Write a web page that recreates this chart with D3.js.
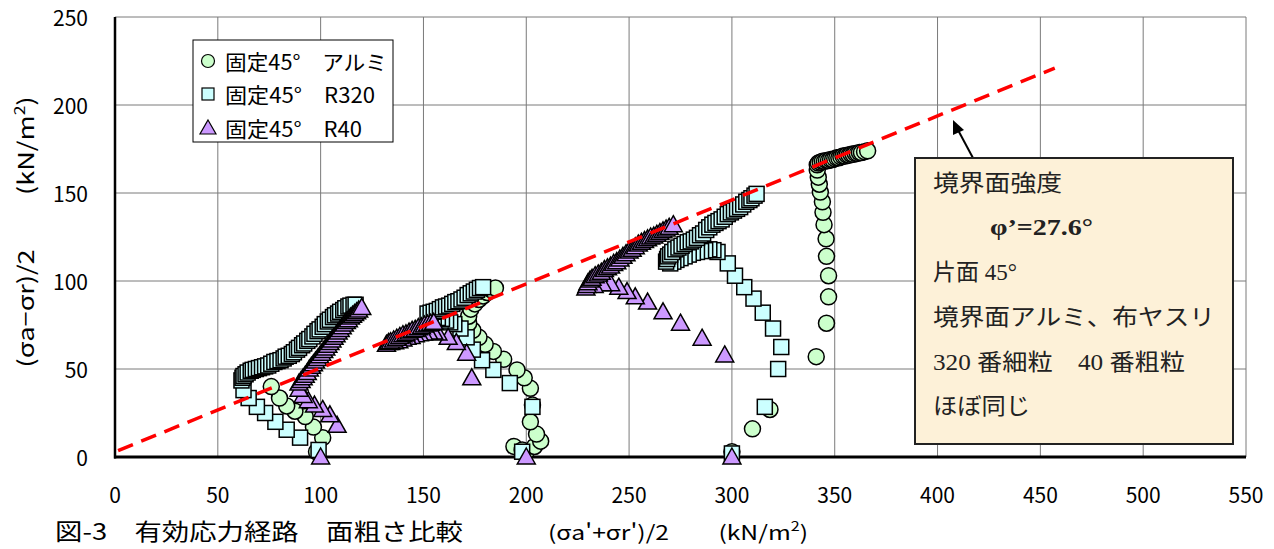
<!DOCTYPE html>
<html lang="ja">
<head>
<meta charset="utf-8">
<script src="https://d3js.org/d3.v7.min.js"></script>
<style>
  body { margin: 0; background: #fff; }
  text { font-family: "Noto Sans CJK JP", sans-serif; fill: #000; }
  .serif { font-family: "Liberation Serif", "Noto Sans CJK JP", serif; }
</style>
</head>
<body>
<svg id="main" width="1274" height="549"></svg>
<script>
// ---- data: [p', q] in kN/m2 ----
const alumi = [
  [98,3],[101,11],[96.5,17],[92.5,23],[87.5,26],[83.5,29],[80,33.5],[76,40],
  [200,3],[194,6],[198,4],[204,6],[207,9],[205,13],[202,20],[203,29.5],[202,39],[199,45],[195.5,49.5],
  [189,55.5],[184,60],[180,64],[177,68],[174,72],[172,76],[172,80],[173,84],[175,87],[177,89.5],
  [179,91.5],[181,93.5],[183,95],[185,96],
  [300,3],[310,16],[318.5,27],[341,57],[346,76],[347,91],[347,103],[346,114],[345.8,124],[344.8,132],
  [344.3,139],[344,145],[343,150.5],[342.5,155],[342,159],[341.5,163],[341.5,166],[342,167],[343,167.5],
  [344,168],[345,168],[346,168.5],[347,168.5],[348,169],[349,169],[350,169.5],[351,170],[352,170],
  [353,170.5],[354,171],[355,171],[356,171.5],[357,171.5],[358,172],[359,172],[360,172.5],[361,172.5],
  [362,173],[363,173],[364.5,173.5],[366,174]
];
const r320 = [
  [99,4],[90,11],[83.5,15.5],[78,20],[73,25],[69,28.5],[65,33.5],[62.5,38],[61.5,43.5],[62,45],[62.5,46],
  [63.5,47],[64.5,48],[66,49],[67,49.5],[68.5,50],[70,50.5],[71.5,51],[73,51.5],[74.5,52],[76,53],[77.5,54],
  [79,54.5],[80.5,55],[82,56],[83,57],[84.5,57.5],[86,58.5],[87,59.5],[88.5,61],[89.5,62],[91,63.5],
  [92,64.5],[93.5,66],[94.5,67],[96,68.5],[97,70],[98.5,71.5],[99.5,72.5],[101,74],[102,75.5],[103.5,77],
  [104.5,78],[106,79.5],[107,80.5],[108.5,81.5],[109.5,82.5],[111,83.5],[112,84.5],[113.5,85.5],
  [114.5,86],[116,86.5],[117,86.5],
  [198,3],[203,28.5],[192,42],[184,49.5],[178.5,55],[174,61],[171,68],[168,73],[165,75.5],[163,76.5],[161,77.5],
  [159,78.5],[157,79],[155,79.5],[153,80],[152,81.5],[153.5,82],[155,82.5],[156.5,83],[158,84],[159.5,85],
  [161,85.5],[162.5,86],[164,87],[165.5,88],[167,88.5],[168.5,89.5],[170,90.5],[171.5,92],[173,93],
  [174.5,94],[176,95],[177.5,96],[179,96.5],
  [300,2],[316,28.5],[322.5,50],[324,62.5],[320,73],[315,82],[310.5,90],[306,96.5],[301.5,103],
  [298,110],[293,116.5],[291,117.5],[289,118],[287,117.5],[285,117],[283,116.5],[281,116],[279,115],
  [277,114],[275,113],[273,112],[271.5,111],[270,110],[268,111],[268.5,112.5],[269,114],[270,115],
  [271,116.5],[272.5,118],[274,119],[275.5,120],[277,121],[278.5,122],[280,122.5],[281.5,123.5],
  [283,124.5],[284.5,126],[286,127],[287.5,129],[289,130.5],[290.5,132],[292,133],[293.5,134],[295,135],
  [296.5,136.5],[298,138],[299.5,139],[301,140],[302.5,141],[304,142],[305.5,143.5],[307,145],
  [308.5,146],[309.5,147],[311,148.5],[312,149.5]
];
const r40 = [
  [100,0],[108,18],[104.5,24],[101,27],[97,29.5],[94,32],[91.5,35],[89.5,38.5],[89.5,42],[90.5,43.5],
  [91.5,45],[92.5,46.5],[93.5,48],[94.5,50],[95.5,51.5],[96.5,53],[97.5,54.5],[98.5,56],[99.5,57.5],
  [100.5,59],[101.5,60.5],[102.5,62],[103.5,63.5],[104.5,65],[105.5,66.5],[106.5,68],[107.5,69.5],
  [108.5,71],[109.5,72.5],[110.5,74],[111.5,75.5],[112.5,77],[113.5,78],[114.5,79.5],[115.5,80.5],
  [116.5,81.5],[117.5,82.5],[118.5,83.5],[120,85],
  [200,0],[173.5,45],[171,59],[166,65],[162,68],[157,70.5],[155,71],[152.5,71],[150,70.5],[148,70],
  [146,69.5],[144,68.5],[142,68],[140,67],[138,66],[136,65.5],[134,65],[132,64],[133,65],[134,65.5],
  [135.5,66.5],[137,67.5],[138.5,68.5],[140,69.5],[141.5,70],[143,71],[144.5,72],[146,72.5],[147.5,73.5],
  [149,74],[150.5,75],[152,75.5],[153.5,76],[155,76.5],
  [300,0],[296.5,58],[285.5,67.5],[275,76],[266.5,82.5],[259,88],[253,91],[249,94],[245,96.5],
  [241,98.5],[237,98.5],[233,97.5],[229,96],[229.5,97.5],[230,99],[231,100.5],[232,101.5],[233.5,103],
  [235,104],[236.5,105],[238,106.5],[239.5,107.5],[241,108.5],[242.5,110],[244,111],[245.5,112.5],
  [247,114],[248.5,115.5],[250,117],[251.5,118],[253,119.5],[254.5,121],[256,122],[257.5,123],
  [259,124],[260.5,125],[262,125.5],[263.5,126.5],[265,127.5],[266.5,128.5],[268,129.5],[269.5,130.5],
  [271.5,132]
];
const failX = [1.5, 457];
const failY = [3.6, 221];
const xTicks = [0,50,100,150,200,250,300,350,400,450,500,550];
const yTicks = [0,50,100,150,200,250];
const legendLabels = ["固定45°　アルミ", "固定45°　R320", "固定45°　R40"];
const noteLines = ["境界面強度", "φ’=27.6°", "片面 45°", "境界面アルミ、布ヤスリ", "320 番細粒　40 番粗粒", "ほぼ同じ"];

const svg = d3.select("#main");
const x = d3.scaleLinear().domain([0, 550]).range([115, 1246]);
const y = d3.scaleLinear().domain([0, 250]).range([457, 17]);

// grid + frame
svg.append("g").selectAll("line").data(xTicks.slice(1)).join("line")
  .attr("x1", d => x(d)).attr("x2", d => x(d)).attr("y1", y(0)).attr("y2", y(250))
  .attr("stroke", "#7a7a7a").attr("stroke-width", 1);
svg.append("g").selectAll("line").data(yTicks.slice(1)).join("line")
  .attr("x1", x(0)).attr("x2", x(550)).attr("y1", d => y(d)).attr("y2", d => y(d))
  .attr("stroke", "#7a7a7a").attr("stroke-width", 1);
svg.append("line").attr("x1", x(0)).attr("x2", x(0)).attr("y1", y(0) + 1.5).attr("y2", y(250))
  .attr("stroke", "#000").attr("stroke-width", 2.5);
svg.append("line").attr("x1", x(0) - 1).attr("x2", x(550)).attr("y1", y(0)).attr("y2", y(0))
  .attr("stroke", "#000").attr("stroke-width", 3);

// tick labels
svg.append("g").selectAll("text").data(xTicks).join("text")
  .attr("x", d => x(d)).attr("y", 494).attr("text-anchor", "middle")
  .attr("dominant-baseline", "central").attr("font-size", 21).text(d => d);
svg.append("g").selectAll("text").data(yTicks).join("text")
  .attr("x", 88).attr("y", d => y(d)).attr("text-anchor", "end")
  .attr("dominant-baseline", "central").attr("font-size", 21).text(d => d);

// markers
const sym = {
  circle: (g, d) => g.append("circle").attr("cx", x(d[0])).attr("cy", y(d[1])).attr("r", 8)
    .attr("fill", "#ccffcc"),
  square: (g, d) => g.append("rect").attr("x", x(d[0]) - 7.5).attr("y", y(d[1]) - 7.5)
    .attr("width", 15).attr("height", 15).attr("fill", "#ccffff"),
  triangle: (g, d) => g.append("path")
    .attr("d", `M${x(d[0])},${y(d[1]) - 9}L${x(d[0]) + 9},${y(d[1]) + 7}L${x(d[0]) - 9},${y(d[1]) + 7}Z`)
    .attr("fill", "#cc99ff")
};
function drawSeries(data, kind) {
  const g = svg.append("g").attr("stroke", "#000").attr("stroke-width", 1.5);
  data.forEach(d => sym[kind](g, d));
}
drawSeries(alumi, "circle");
drawSeries(r320, "square");
drawSeries(r40, "triangle");

// failure line
svg.append("line").attr("x1", x(failX[0])).attr("y1", y(failY[0]))
  .attr("x2", x(failX[1])).attr("y2", y(failY[1]))
  .attr("stroke", "#ff0000").attr("stroke-width", 3.5).attr("stroke-dasharray", "16,9");

// legend
const lg = svg.append("g");
lg.append("rect").attr("x", 193).attr("y", 40).attr("width", 200).attr("height", 102)
  .attr("fill", "#fff").attr("stroke", "#000").attr("stroke-width", 1);
const legY = [61, 94, 128];
const legKinds = ["circle", "square", "triangle"];
const legLen = [162, 150, 137];
legKinds.forEach((k, i) => {
  const g = lg.append("g").attr("stroke", "#000").attr("stroke-width", 1.2);
  if (k === "circle") g.append("circle").attr("cx", 208).attr("cy", legY[i]).attr("r", 6.5).attr("fill", "#ccffcc");
  if (k === "square") g.append("rect").attr("x", 202).attr("y", legY[i] - 6).attr("width", 12).attr("height", 12).attr("fill", "#ccffff");
  if (k === "triangle") g.append("path").attr("d", `M208,${legY[i] - 8}L216,${legY[i] + 6}L200,${legY[i] + 6}Z`).attr("fill", "#cc99ff");
  lg.append("text").attr("x", 225).attr("y", legY[i]).attr("dominant-baseline", "central")
    .attr("font-size", 21).attr("textLength", legLen[i]).attr("lengthAdjust", "spacingAndGlyphs")
    .text(legendLabels[i]);
});

// annotation box with arrow
svg.append("line").attr("x1", 973).attr("y1", 158).attr("x2", 958).attr("y2", 130)
  .attr("stroke", "#000").attr("stroke-width", 2);
svg.append("path").attr("d", "M953,120L964,130L953,135Z").attr("fill", "#000");
svg.append("rect").attr("x", 915).attr("y", 158).attr("width", 318).attr("height", 286)
  .attr("fill", "#fdf1d8").attr("stroke", "#222").attr("stroke-width", 2);
const noteX = [933, 990, 933, 933, 933, 933];
const noteY = [191, 235, 280, 325, 370, 414];
const noteLen = [129, 103, 84, 282, 252, 97];
noteLines.forEach((t, i) => {
  svg.append("text").attr("class", "serif").attr("x", noteX[i]).attr("y", noteY[i])
    .attr("font-size", 23).attr("font-weight", i === 1 ? "bold" : "normal")
    .attr("textLength", noteLen[i]).attr("lengthAdjust", "spacingAndGlyphs")
    .style("fill", "#222").text(t);
});

// axis titles and caption
const yt = svg.append("text").attr("transform", "translate(34,232) rotate(-90)")
  .attr("text-anchor", "middle").attr("font-size", 22)
  .attr("textLength", 271).attr("lengthAdjust", "spacingAndGlyphs");
yt.append("tspan").text("(σa−σr)/2　　(kN/m");
yt.append("tspan").attr("font-size", 14).attr("dy", -9).text("2");
yt.append("tspan").attr("dy", 9).text(")");

svg.append("text").attr("x", 55).attr("y", 540).attr("font-size", 23)
  .attr("textLength", 408).attr("lengthAdjust", "spacingAndGlyphs")
  .text("図-3　有効応力経路　面粗さ比較");
const xt = svg.append("text").attr("x", 548).attr("y", 540).attr("font-size", 20)
  .attr("textLength", 260).attr("lengthAdjust", "spacingAndGlyphs");
xt.append("tspan").text("(σa'+σr')/2　　(kN/m");
xt.append("tspan").attr("font-size", 13).attr("dy", -9).text("2");
xt.append("tspan").attr("dy", 9).text(")");
</script>
</body>
</html>
